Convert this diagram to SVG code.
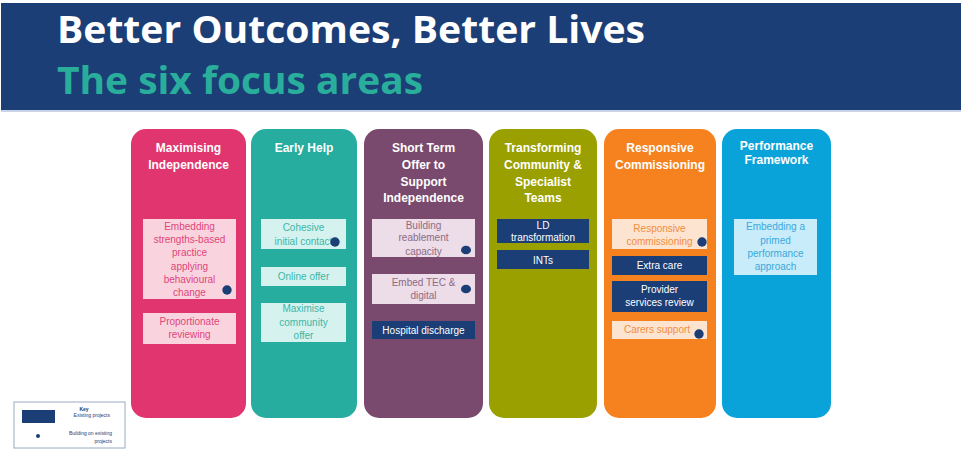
<svg xmlns="http://www.w3.org/2000/svg" width="961" height="450" viewBox="0 0 961 450">
<style>
.col{stroke:none}
.ttl{font-family:"Liberation Sans",Arial,sans-serif;font-weight:bold;font-size:12px;fill:#ffffff;text-anchor:middle}
.it{font-family:"Liberation Sans",Arial,sans-serif;font-size:10px;text-anchor:middle}
.dark{fill:#1b3e77}
.wt{fill:#ffffff}
.dot{fill:#1b3e77}
.key{font-family:"Liberation Sans",Arial,sans-serif;font-size:5px;fill:#1b3e77;text-anchor:end}
</style>
<rect width="961" height="450" fill="#ffffff"/>
<g id="header">
<rect x="1" y="3" width="960" height="107" fill="#1b3e77"/>
<rect x="1" y="110" width="960" height="2" fill="#c9d5e7"/>
<text x="57" y="43" font-family="'Open Sans','Liberation Sans',sans-serif" font-weight="bold" font-size="38" fill="#ffffff" textLength="588" lengthAdjust="spacingAndGlyphs">Better Outcomes, Better Lives</text>
<text x="57" y="94" font-family="'Open Sans','Liberation Sans',sans-serif" font-weight="bold" font-size="38" fill="#2aae9c" textLength="366" lengthAdjust="spacingAndGlyphs">The six focus areas</text>
</g>
<g id="connectors"/>
<g id="col-maximising">
<rect x="131" y="129" width="115" height="289" rx="15" fill="#e0356e"/>
<text class="ttl" x="188.5" y="152">Maximising</text>
<text class="ttl" x="188.5" y="169">Independence</text>
<g id="mi-strengths">
<rect x="143" y="219" width="93" height="80" fill="#f9d4df"/>
<text class="it" fill="#e0457a" x="189.5" y="229.5">Embedding</text>
<text class="it" fill="#e0457a" x="189.5" y="243">strengths-based</text>
<text class="it" fill="#e0457a" x="189.5" y="256">practice</text>
<text class="it" fill="#e0457a" x="189.5" y="269.5">applying</text>
<text class="it" fill="#e0457a" x="189.5" y="283">behavioural</text>
<text class="it" fill="#e0457a" x="189.5" y="296">change</text>
<circle class="dot" cx="227" cy="290" r="4.7"/>
</g>
<g id="mi-reviewing">
<rect x="143" y="313" width="93" height="31" fill="#f9d4df"/>
<text class="it" fill="#e0457a" x="189.5" y="325">Proportionate</text>
<text class="it" fill="#e0457a" x="189.5" y="338">reviewing</text>
</g>
</g>
<g id="col-earlyhelp">
<rect x="251" y="129" width="106" height="289" rx="15" fill="#26ada0"/>
<text class="ttl" x="304" y="152">Early Help</text>
<g id="eh-contact">
<rect x="261" y="219" width="85" height="30" fill="#d5f2ef"/>
<text class="it" fill="#3cb6a9" x="303.5" y="231">Cohesive</text>
<text class="it" fill="#3cb6a9" x="303.5" y="245">initial contact</text>
<circle class="dot" cx="335" cy="242" r="4.7"/>
</g>
<g id="eh-online">
<rect x="261" y="267" width="85" height="19" fill="#d5f2ef"/>
<text class="it" fill="#3cb6a9" x="303.5" y="280">Online offer</text>
</g>
<g id="eh-community">
<rect x="261" y="303" width="85" height="39" fill="#d5f2ef"/>
<text class="it" fill="#3cb6a9" x="303.5" y="312">Maximise</text>
<text class="it" fill="#3cb6a9" x="303.5" y="326">community</text>
<text class="it" fill="#3cb6a9" x="303.5" y="339">offer</text>
</g>
</g>
<g id="col-shortterm">
<rect x="364" y="129" width="119" height="289" rx="15" fill="#7a4a6e"/>
<text class="ttl" x="423.5" y="152">Short Term</text>
<text class="ttl" x="423.5" y="169">Offer to</text>
<text class="ttl" x="423.5" y="186">Support</text>
<text class="ttl" x="423.5" y="202">Independence</text>
<g id="st-reablement">
<rect x="372" y="219" width="103" height="38" fill="#ecdde8"/>
<text class="it" fill="#8e6a87" x="423.5" y="228.5">Building</text>
<text class="it" fill="#8e6a87" x="423.5" y="241">reablement</text>
<text class="it" fill="#8e6a87" x="423.5" y="254.5">capacity</text>
<ellipse class="dot" cx="466" cy="250" rx="5" ry="4.3"/>
</g>
<g id="st-tec">
<rect x="372" y="274" width="103" height="30" fill="#ecdde8"/>
<text class="it" fill="#8e6a87" x="423.5" y="285.5">Embed TEC &amp;</text>
<text class="it" fill="#8e6a87" x="423.5" y="299">digital</text>
<ellipse class="dot" cx="466" cy="289" rx="5" ry="4.3"/>
</g>
<g id="st-hospital">
<rect class="dark" x="372" y="321" width="103" height="18"/>
<text class="it wt" x="423.5" y="333.5">Hospital discharge</text>
</g>
</g>
<g id="col-transforming">
<rect x="489" y="129" width="108" height="289" rx="15" fill="#9aa000"/>
<text class="ttl" x="543" y="152">Transforming</text>
<text class="ttl" x="543" y="169">Community &amp;</text>
<text class="ttl" x="543" y="186">Specialist</text>
<text class="ttl" x="543" y="202">Teams</text>
<g id="tc-ld">
<rect class="dark" x="497" y="219" width="92" height="24"/>
<text class="it wt" x="543" y="228.5">LD</text>
<text class="it wt" x="543" y="241">transformation</text>
</g>
<g id="tc-ints">
<rect class="dark" x="497" y="250" width="92" height="19"/>
<text class="it wt" x="543" y="263.5">INTs</text>
</g>
</g>
<g id="col-responsive">
<rect x="604" y="129" width="112" height="289" rx="15" fill="#f5821f"/>
<text class="ttl" x="660" y="152">Responsive</text>
<text class="ttl" x="660" y="169">Commissioning</text>
<g id="rc-commissioning">
<rect x="612" y="219" width="95" height="30" fill="#fde4d0"/>
<text class="it" fill="#f38c3c" x="659.5" y="231.5">Responsive</text>
<text class="it" fill="#f38c3c" x="659.5" y="245">commissioning</text>
<circle class="dot" cx="702" cy="242" r="4.7"/>
</g>
<g id="rc-extracare">
<rect class="dark" x="612" y="256" width="95" height="19"/>
<text class="it wt" x="659.5" y="269">Extra care</text>
</g>
<g id="rc-provider">
<rect class="dark" x="612" y="281" width="95" height="31"/>
<text class="it wt" x="659.5" y="293">Provider</text>
<text class="it wt" x="659.5" y="306">services review</text>
</g>
<g id="rc-carers">
<rect x="612" y="321" width="95" height="18" fill="#fde4d0"/>
<text class="it" fill="#f38c3c" x="657" y="333">Carers support</text>
<circle class="dot" cx="699" cy="334" r="4.7"/>
</g>
</g>
<g id="col-performance">
<rect x="722" y="129" width="109" height="289" rx="15" fill="#0aa3d9"/>
<text class="ttl" x="776.5" y="150">Performance</text>
<text class="ttl" x="776.5" y="164">Framework</text>
<g id="pf-primed">
<rect x="734" y="219" width="83" height="56" fill="#c8ecf9"/>
<text class="it" fill="#3aa9dd" x="775.5" y="230">Embedding a</text>
<text class="it" fill="#3aa9dd" x="775.5" y="243.5">primed</text>
<text class="it" fill="#3aa9dd" x="775.5" y="256.7">performance</text>
<text class="it" fill="#3aa9dd" x="775.5" y="270">approach</text>
</g>
</g>
<g id="key">
<rect x="14" y="402" width="111" height="46" fill="#ffffff" stroke="#9aa8c4" stroke-width="1"/>
<text class="key" x="84" y="411" font-weight="bold" text-anchor="middle" style="text-anchor:middle">Key</text>
<rect class="dark" x="22" y="410" width="33" height="13"/>
<text class="key" x="110" y="417">Existing projects</text>
<circle class="dot" cx="38" cy="436" r="2"/>
<text class="key" x="112" y="434.5">Building on existing</text>
<text class="key" x="112" y="442.5">projects</text>
</g>
</svg>
